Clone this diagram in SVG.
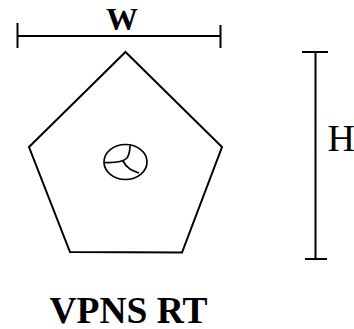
<svg xmlns="http://www.w3.org/2000/svg" width="354" height="329" viewBox="0 0 354 329">
<style>
.l{fill:none;stroke:#000;stroke-width:2;stroke-linecap:butt}
.s{stroke-width:1.700}
.t{font-family:"Liberation Serif",serif;fill:#000}
.b{font-weight:bold}
</style>
<rect width="354" height="329" fill="#fff"/>
<g id="connectors">
<path class="l" d="M17.500 36H220.500M17.500 23V48M220.500 25V48"/>
<path class="l" d="M315.500 52V258M302 52H328M305 259H327"/>
</g>
<g id="pentagon">
<path class="l" d="M125.500 52L222 147L182 252.500L70 252L29 147Z"/>
</g>
<g id="symbol">
<ellipse class="l s" cx="125.500" cy="162" rx="21.500" ry="17.500"/>
<path class="l s" d="M104 162.500C116 163 123 162 127 158C129 155 130 150 130 145.500M123 161C127 169 133 171 139 173"/>
</g>
<g id="label-w"><text class="t b" x="122" y="30" font-size="32" text-anchor="middle">W</text></g>
<g id="label-h"><text class="t" x="327.500" y="151" font-size="38">H</text></g>
<g id="label-title"><text class="t b" x="128.500" y="322.500" font-size="37.500" text-anchor="middle">VPNS RT</text></g>
</svg>
